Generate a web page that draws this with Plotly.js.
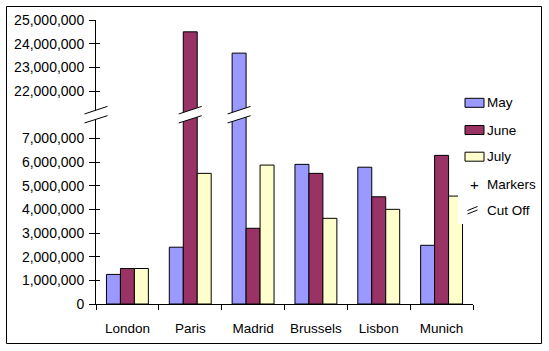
<!DOCTYPE html>
<html>
<head>
<meta charset="utf-8">
<script src="https://cdn.plot.ly/plotly-3.0.1.min.js"></script>
<style>html,body{margin:0;padding:0;background:#fff;}#chart{width:549px;height:351px;}</style>
</head>
<body>
<div id="chart"></div>
<script>
// ---- data ----
const cities = ["London", "Paris", "Madrid", "Brussels", "Lisbon", "Munich"];
const may  = [1250000, 2400000, 23600000, 5900000, 5780000, 2480000];
const june = [1500000, 24500000, 3200000, 5520000, 4530000, 6280000];
const july = [1500000, 5520000, 5870000, 3620000, 4000000, 4560000];
const seriesNames = ["May", "June", "July"];
const seriesColors = ["#9999FF", "#993366", "#FFFFCC"];
const lowTicks = [0, 1000000, 2000000, 3000000, 4000000, 5000000, 6000000, 7000000];
const highTicks = [22000000, 23000000, 24000000, 25000000];
const lowerCut = 7000000, upperCut = 22000000;
const extraLegend = ["Markers", "Cut Off"];

// ---- broken axis mapping ----
const UNIT = 1000000, GAP = 2;
function disp(v) { return v <= lowerCut ? v / UNIT : (v - upperCut) / UNIT + lowerCut / UNIT + GAP; }
const breakUnit = lowerCut / UNIT + GAP / 2;
const tickVals = lowTicks.concat(highTicks).map(disp);
const tickText = lowTicks.concat(highTicks).map(v => v.toLocaleString("en-US"));
const yTop = disp(highTicks[highTicks.length - 1]);

// plot box in pixels (for decorations only)
const W = 549, H = 351, L = 96, R = 473, T = 20, B = 304;
const px = X => (X - L) / (R - L);
const py = Y => (B - Y) / (B - T);
const bargap = 0.333;
const catW = (R - L) / cities.length;
const barW = catW * (1 - bargap) / 3;
const yPix = u => B - u / yTop * (B - T);

const font = "'Liberation Sans', Arial, sans-serif";
const all = [may, june, july];
const traces = all.map((s, i) => ({
  type: "bar", name: seriesNames[i], x: cities, y: s.map(disp),
  marker: { color: seriesColors[i], line: { color: "#000", width: 1 } },
  hoverinfo: "skip", showlegend: false
}));
traces.push({ type: "scatter", x: [cities[0]], y: [null], yaxis: "y2", showlegend: false, hoverinfo: "skip" });

const shapes = [];
// break marker generator (pixel centre)
function cutMark(cx, cy, hw) {
  const yc = cy;
  const pts = [[cx - hw, yc - 0.7], [cx + hw, yc - 8.3], [cx + hw, yc + 1], [cx - hw, yc + 8.3]];
  const path = "M" + pts.map(p => px(p[0]) + "," + py(p[1])).join(" L") + " Z";
  shapes.push({ type: "path", xref: "paper", yref: "paper", path: path, fillcolor: "#fff", line: { width: 0 }, layer: "above" });
  shapes.push({ type: "line", xref: "paper", yref: "paper", x0: px(pts[0][0]), y0: py(pts[0][1]), x1: px(pts[1][0]), y1: py(pts[1][1]), line: { color: "#000", width: 1 }, layer: "above" });
  shapes.push({ type: "line", xref: "paper", yref: "paper", x0: px(pts[3][0]), y0: py(pts[3][1]), x1: px(pts[2][0]), y1: py(pts[2][1]), line: { color: "#000", width: 1 }, layer: "above" });
}
const yBreak = yPix(breakUnit);
cutMark(L, yBreak, 11.5);
all.forEach((s, si) => s.forEach((v, ci) => {
  if (v > lowerCut) cutMark(L + (ci + 0.5) * catW + (si - 1) * barW, yBreak, 11.5);
}));

// legend area (covers plot edge)
shapes.push({ type: "rect", xref: "paper", yref: "paper", x0: px(458), x1: px(540), y0: py(224), y1: py(85), fillcolor: "#fff", line: { width: 0 }, layer: "above" });
const legY = [102.8, 130, 156.7, 184, 210];
const annotations = [];
const legFont = { family: font, size: 13.5, color: "#000" };
seriesNames.forEach((n, i) => {
  shapes.push({ type: "rect", xref: "paper", yref: "paper", x0: px(465), x1: px(484), y0: py(legY[i] + 4.5), y1: py(legY[i] - 4.5), fillcolor: seriesColors[i], line: { color: "#000", width: 1 }, layer: "above" });
  annotations.push({ xref: "paper", yref: "paper", x: px(485), y: py(legY[i]), xanchor: "left", yanchor: "middle", text: n, showarrow: false, font: legFont });
});
annotations.push({ xref: "paper", yref: "paper", x: px(474), y: py(legY[3]), xanchor: "center", yanchor: "middle", text: "+", showarrow: false, font: { family: font, size: 15, color: "#000" } });
extraLegend.forEach((n, i) => {
  annotations.push({ xref: "paper", yref: "paper", x: px(485), y: py(legY[3 + i]), xanchor: "left", yanchor: "middle", text: n, showarrow: false, font: legFont });
});
shapes.push({ type: "line", xref: "paper", yref: "paper", x0: px(467.5), y0: py(210.5), x1: px(477.5), y1: py(206.5), line: { color: "#000", width: 1 }, layer: "above" });
shapes.push({ type: "line", xref: "paper", yref: "paper", x0: px(467.5), y0: py(214), x1: px(477.5), y1: py(210), line: { color: "#000", width: 1 }, layer: "above" });
// outer frame
shapes.push({ type: "rect", xref: "paper", yref: "paper", x0: px(6.5), x1: px(541.5), y0: py(343.5), y1: py(6.5), line: { color: "#000", width: 1 }, layer: "above" });

const layout = {
  width: W, height: H,
  margin: { l: L, r: W - R, t: T, b: H - B, pad: 0 },
  paper_bgcolor: "#fff", plot_bgcolor: "#fff",
  barmode: "group", bargap: bargap, bargroupgap: 0,
  font: { family: font, size: 13, color: "#000" },
  showlegend: false,
  xaxis: {
    type: "category", showline: true, linecolor: "#000", linewidth: 1,
    ticks: "outside", ticklen: 5, tickcolor: "#000", tickson: "boundaries",
    ticklabelstandoff: 12,
    showgrid: false, zeroline: false, tickfont: { family: font, size: 13.5, color: "#000" },
    fixedrange: true
  },
  yaxis: {
    range: [0, yTop], tickmode: "array", tickvals: tickVals, ticktext: tickText,
    showline: true, linecolor: "#000", linewidth: 1,
    ticks: "outside", ticklen: 6, tickcolor: "#000", ticklabelstandoff: 2,
    showgrid: false, zeroline: false, tickfont: { family: font, size: 14, color: "#000" },
    fixedrange: true
  },
  yaxis2: {
    overlaying: "y", anchor: "x", side: "left", range: [0, yTop],
    tickmode: "array", tickvals: tickVals, ticks: "inside", ticklen: 4, tickcolor: "#000",
    showticklabels: false, showline: false, showgrid: false, zeroline: false, fixedrange: true
  },
  shapes: shapes,
  annotations: annotations
};
Plotly.newPlot("chart", traces, layout, { staticPlot: true, displayModeBar: false });
</script>
</body>
</html>
